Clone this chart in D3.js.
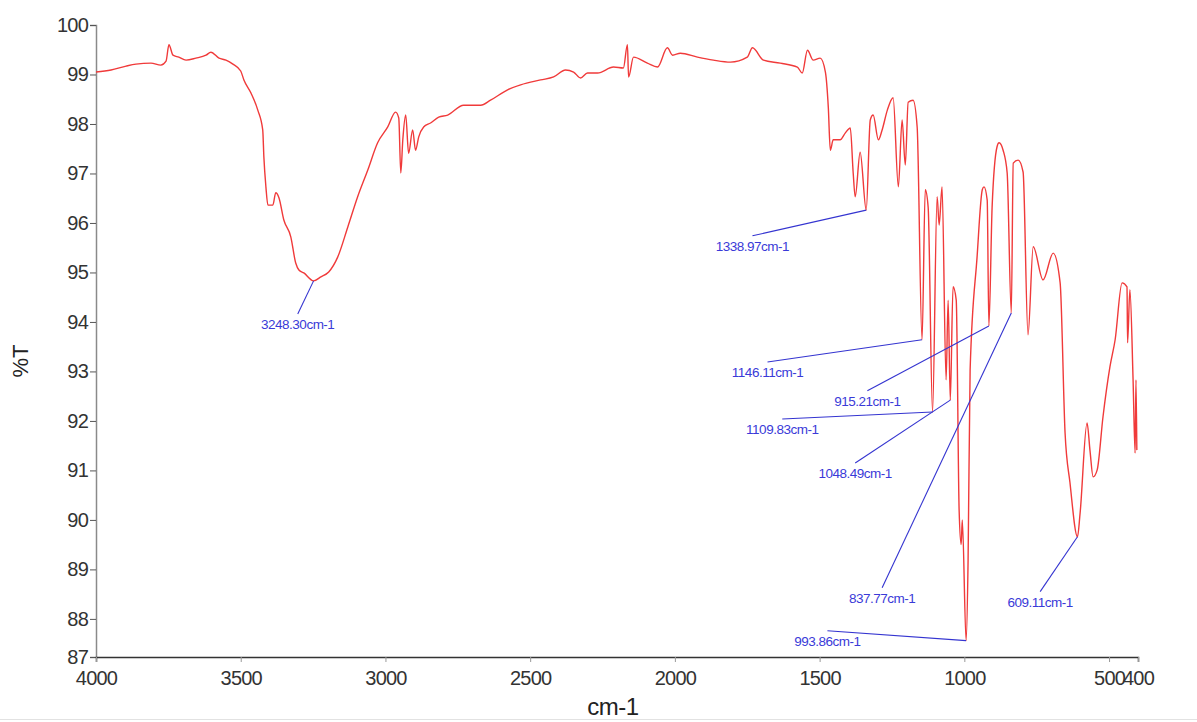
<!DOCTYPE html>
<html>
<head>
<meta charset="utf-8">
<script src="https://cdn.jsdelivr.net/npm/d3@7"></script>
<style>
  body { margin: 0; background: #fff; }
  svg { display: block; font-family: "Liberation Sans", Arial, sans-serif; }
</style>
</head>
<body>
<div id="chart"></div>
<script>
// IR spectrum (cm-1, %T)
const wavenumber = [
  4000, 3948, 3896, 3862, 3810, 3776, 3758, 3748, 3734, 3714, 3689, 3655, 3620, 3603, 3575, 3551, 3527, 3500,
  3489, 3465, 3441, 3424, 3420, 3413, 3406, 3389, 3379, 3368, 3351, 3327, 3310, 3299, 3282, 3248.3, 3223, 3196,
  3165, 3130, 3096, 3061, 3027, 2992, 2965, 2954, 2947, 2940, 2930, 2920, 2906, 2896, 2885, 2868, 2844, 2816,
  2785, 2730, 2671, 2637, 2578, 2533, 2464, 2419, 2378, 2350, 2326, 2302, 2267, 2212, 2178, 2164, 2160, 2143,
  2095, 2060, 2026, 2008, 1981, 1922, 1867, 1808, 1750, 1732, 1694, 1636, 1577, 1560, 1542, 1522, 1498, 1480,
  1470, 1463, 1453, 1429, 1411, 1394, 1384, 1377, 1360, 1338.97, 1325, 1315, 1297, 1284, 1266, 1246, 1228, 1215,
  1204, 1194, 1177, 1163, 1146.11, 1135, 1125, 1109.83, 1094, 1087, 1077, 1063, 1056, 1048.49, 1039, 1028, 1018,
  1011, 1007, 993.86, 987, 980, 956, 938, 932, 921, 915.21, 904, 887, 880, 866, 852, 837.77, 831, 814, 797, 780,
  762, 728, 693, 669, 652, 635, 609.11, 600, 576, 566, 555, 541, 521, 497, 479, 455, 438, 436, 428, 417, 410, 407, 404
];
const transmittance = [
  99.05, 99.09, 99.17, 99.21, 99.23, 99.19, 99.27, 99.60, 99.39, 99.35, 99.29, 99.33, 99.39, 99.45, 99.33, 99.29, 99.21, 99.07,
  98.89, 98.63, 98.28, 97.88, 97.33, 96.73, 96.36, 96.36, 96.61, 96.51, 96.06, 95.72, 95.19, 95.05, 94.99, 94.83, 94.91, 95.01,
  95.31, 95.92, 96.53, 97.07, 97.62, 97.94, 98.24, 98.12, 97.01, 97.68, 98.18, 97.41, 97.88, 97.47, 97.74, 97.94, 98.02, 98.14,
  98.18, 98.38, 98.38, 98.48, 98.69, 98.79, 98.89, 98.95, 99.09, 99.05, 98.93, 99.03, 99.03, 99.15, 99.13, 99.60, 98.95, 99.35,
  99.23, 99.15, 99.54, 99.39, 99.43, 99.35, 99.29, 99.25, 99.35, 99.54, 99.29, 99.23, 99.15, 99.03, 99.49, 99.29, 99.33, 99.05,
  98.34, 97.47, 97.68, 97.68, 97.82, 97.92, 97.01, 96.53, 97.43, 96.26, 98.08, 98.18, 97.68, 97.88, 98.28, 98.53, 96.73, 98.08,
  97.17, 98.44, 98.48, 97.94, 93.64, 96.67, 96.32, 92.18, 96.53, 95.96, 96.73, 92.83, 94.44, 92.42, 94.71, 94.44, 90.20,
  89.50, 90.00, 87.56, 89.19, 93.03, 95.31, 96.67, 96.73, 96.46, 93.92, 96.32, 97.54, 97.62, 97.47, 97.01, 94.18, 97.21, 97.27, 97.03, 93.74,
  95.52, 94.85, 95.39, 94.79, 91.76, 90.75, 89.66, 90.14, 91.96, 91.41, 90.87, 91.01, 92.08, 93.09, 93.64, 94.79, 94.71, 93.58, 94.65, 92.83, 91.35, 92.83, 91.41
];

// peak labels: peak position and where the leader line starts (data units)
const peakWn    = [3248.30, 1338.97, 1146.11, 915.21, 1109.83, 1048.49, 837.77, 993.86, 609.11];
const peakT     = [94.83, 96.26, 93.64, 93.92, 92.18, 92.42, 94.18, 87.56, 89.66];
const labelWn   = [3303, 1732, 1680, 1335, 1629, 1377, 1284, 1473, 738];
const labelT    = [94.16, 95.74, 93.19, 92.61, 92.04, 91.15, 88.63, 87.76, 88.55];

const xTicks = [4000, 3500, 3000, 2500, 2000, 1500, 1000, 500, 400];
const yBottom = 87.23; // axis bottom, labelled "87" by the instrument software
const yTicks = [yBottom, 88, 89, 90, 91, 92, 93, 94, 95, 96, 97, 98, 99, 100];

const W = 1197, H = 722;
const margin = { top: 25, right: 59, bottom: 65, left: 96 };

const svg = d3.select("#chart").append("svg")
  .attr("width", W)
  .attr("height", H);

const x = d3.scaleLinear()
  .domain([4000, 400])
  .range([margin.left, W - margin.right]);
const y = d3.scaleLinear()
  .domain([yBottom, 100])
  .range([H - margin.bottom, margin.top]);

// y axis
const yAxis = svg.append("g")
  .attr("transform", `translate(${margin.left},0)`)
  .call(d3.axisLeft(y).tickValues(yTicks).tickSize(6).tickPadding(2)
    .tickFormat(d => Math.round(d)));
yAxis.select(".domain").attr("stroke", "#8a8a8a").attr("stroke-width", 1.5);
yAxis.selectAll(".tick line").attr("stroke", "#555");
yAxis.selectAll("text").attr("fill", "#333").attr("font-size", 20)
  .attr("letter-spacing", -0.8);

// x axis
const xAxis = svg.append("g")
  .attr("transform", `translate(0,${H - margin.bottom})`)
  .call(d3.axisBottom(x).tickValues(xTicks).tickSize(5).tickPadding(9)
    .tickFormat(d3.format("d")));
xAxis.select(".domain").attr("stroke", "#333").attr("stroke-width", 1.5);
xAxis.selectAll(".tick line").attr("stroke", "#999");
xAxis.selectAll("text").attr("fill", "#333").attr("font-size", 20)
  .attr("letter-spacing", -0.8);

// axis titles
svg.append("text")
  .attr("x", 613).attr("y", 715)
  .attr("text-anchor", "middle")
  .attr("font-size", 24).attr("fill", "#222")
  .attr("letter-spacing", -0.5)
  .text("cm-1");
svg.append("text")
  .attr("transform", "translate(28,361) rotate(-90)")
  .attr("text-anchor", "middle")
  .attr("font-size", 22).attr("fill", "#222")
  .text("%T");

// spectrum
const pts = wavenumber.map((w, i) => [w, transmittance[i]]);
svg.append("path")
  .datum(pts)
  .attr("fill", "none")
  .attr("stroke", "#f03a3a")
  .attr("stroke-width", 1.4)
  .attr("stroke-linejoin", "round")
  .attr("d", d3.line().curve(d3.curveMonotoneX).x(d => x(d[0])).y(d => y(d[1])));

// peak annotations
const peaks = peakWn.map((w, i) => ({ w: w, t: peakT[i], lw: labelWn[i], lt: labelT[i] }));
const ann = svg.append("g");
ann.selectAll("line")
  .data(peaks)
  .join("line")
  .attr("x1", d => x(d.lw)).attr("y1", d => y(d.lt))
  .attr("x2", d => x(d.w)).attr("y2", d => y(d.t))
  .attr("stroke", "#3434d0")
  .attr("stroke-width", 1.1);
ann.selectAll("text")
  .data(peaks)
  .join("text")
  .attr("x", d => x(d.lw))
  .attr("y", d => y(d.lt) + 15)
  .attr("text-anchor", "middle")
  .attr("font-size", 13.5)
  .attr("letter-spacing", -0.5)
  .attr("fill", "#3a3ad8")
  .text(d => d3.format(".2f")(d.w) + "cm-1");

// faint frame line at the bottom of the picture
svg.append("line")
  .attr("x1", 0).attr("x2", W)
  .attr("y1", 719.5).attr("y2", 719.5)
  .attr("stroke", "#e2e2e2");
</script>
</body>
</html>
